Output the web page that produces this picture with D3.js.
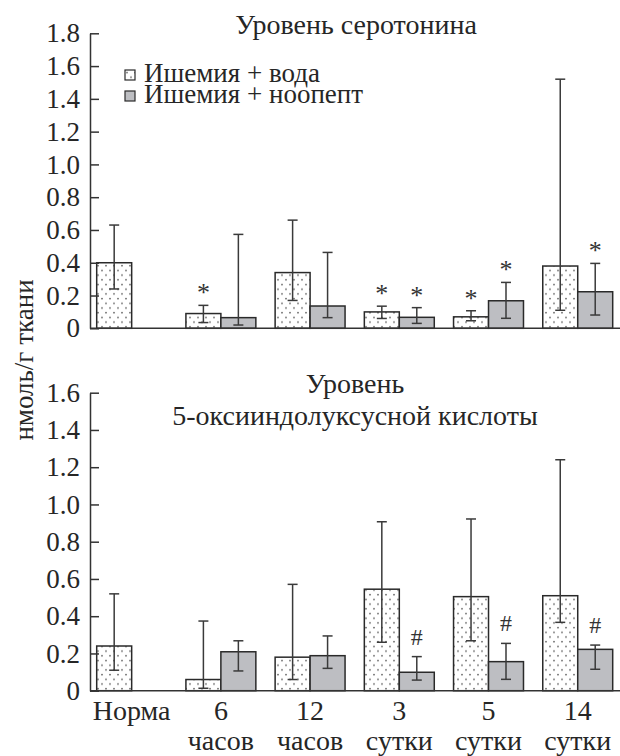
<!DOCTYPE html>
<html>
<head>
<meta charset="utf-8">
<script src="https://cdn.jsdelivr.net/npm/d3@7"></script>
</head>
<body style="margin:0">
<div class="chart"></div>
<script>
const categories = ['Норма', '6', '12', '3', '5', '14'];
const categoryUnits = ['', 'часов', 'часов', 'сутки', 'сутки', 'сутки'];
const seriesNames = ['Ишемия + вода', 'Ишемия + ноопепт'];

// serotonin, nmol/g
const serWater = [0.40, 0.09, 0.34, 0.10, 0.07, 0.38];
const serWaterLo = [0.24, 0.035, 0.17, 0.06, 0.046, 0.11];
const serWaterHi = [0.63, 0.14, 0.66, 0.135, 0.107, 1.52];
const serWaterMark = ['', '*', '', '*', '*', ''];
const serNoop = [null, 0.065, 0.136, 0.067, 0.168, 0.223];
const serNoopLo = [null, 0.02, 0.065, 0.03, 0.061, 0.081];
const serNoopHi = [null, 0.573, 0.463, 0.126, 0.28, 0.396];
const serNoopMark = ['', '', '', '*', '*', '*'];
const serTicks = [0, 0.2, 0.4, 0.6, 0.8, 1.0, 1.2, 1.4, 1.6, 1.8];

// 5-HIAA, nmol/g
const hiaaWater = [0.24, 0.06, 0.18, 0.545, 0.505, 0.51];
const hiaaWaterLo = [0.11, 0.013, 0.06, 0.26, 0.268, 0.367];
const hiaaWaterHi = [0.52, 0.374, 0.571, 0.907, 0.922, 1.24];
const hiaaWaterMark = ['', '', '', '', '', ''];
const hiaaNoop = [null, 0.209, 0.188, 0.099, 0.156, 0.222];
const hiaaNoopLo = [null, 0.106, 0.12, 0.057, 0.061, 0.115];
const hiaaNoopHi = [null, 0.268, 0.294, 0.183, 0.254, 0.245];
const hiaaNoopMark = ['', '', '', '#', '#', '#'];
const hiaaTicks = [0, 0.2, 0.4, 0.6, 0.8, 1.0, 1.2, 1.4, 1.6];

const W = 620, H = 756;
const axisX = 90;
const FONT = 'Liberation Serif';
const INK = '#262626';

function build_svg() {
   const svg = d3.select('.chart').append('svg')
      .attr('width', W)
      .attr('height', H)
      .attr('font-family', FONT)
      .style('display', 'block');
   const pat = svg.append('defs').append('pattern')
      .attr('id', 'dots')
      .attr('patternUnits', 'userSpaceOnUse')
      .attr('width', 8)
      .attr('height', 9.4);
   pat.append('rect').attr('width', 8).attr('height', 9.4).attr('fill', '#fff');
   pat.append('circle').attr('cx', 2).attr('cy', 2.5).attr('r', 0.8).attr('fill', '#555');
   pat.append('circle').attr('cx', 6).attr('cy', 7.2).attr('r', 0.8).attr('fill', '#555');
   return svg;
}

function rows(water, wLo, wHi, wMark, noop, nLo, nHi, nMark) {
   return categories.map((c, i) => [
      {cat: c, key: 0, v: water[i], lo: wLo[i], hi: wHi[i], mark: wMark[i]},
      {cat: c, key: 1, v: noop[i], lo: nLo[i], hi: nHi[i], mark: nMark[i]}
   ]).flat().filter(d => d.v != null);
}

function draw_panel(svg, data, yScale, ticks, xScale, subScale) {
   const g = svg.append('g');
   const y0 = yScale(0);

   g.selectAll('.bar')
      .data(data)
      .enter()
      .append('rect')
      .attr('class', 'bar')
      .attr('x', d => xScale(d.cat) + subScale(d.key))
      .attr('y', d => yScale(d.v))
      .attr('width', subScale.bandwidth())
      .attr('height', d => y0 - yScale(d.v))
      .attr('fill', d => d.key === 0 ? 'url(#dots)' : '#bdbec2')
      .attr('stroke', '#2a2a2a')
      .attr('stroke-width', 1.5);

   const cx = d => xScale(d.cat) + subScale(d.key) + subScale.bandwidth() / 2;
   const err = g.selectAll('.err').data(data).enter().append('g')
      .attr('stroke', '#3a3a3a').attr('stroke-width', 1.5);
   err.append('line').attr('x1', cx).attr('x2', cx)
      .attr('y1', d => yScale(d.lo)).attr('y2', d => yScale(d.hi));
   err.append('line').attr('x1', d => cx(d) - 5).attr('x2', d => cx(d) + 5)
      .attr('y1', d => yScale(d.hi)).attr('y2', d => yScale(d.hi));
   err.append('line').attr('x1', d => cx(d) - 5).attr('x2', d => cx(d) + 5)
      .attr('y1', d => yScale(d.lo)).attr('y2', d => yScale(d.lo));

   g.selectAll('.mark')
      .data(data.filter(d => d.mark))
      .enter()
      .append('text')
      .attr('x', cx)
      .attr('y', d => yScale(d.hi) - (d.mark === '*' ? 4 : 12))
      .attr('text-anchor', 'middle')
      .attr('font-family', FONT)
      .attr('font-size', d => d.mark === '*' ? 26 : 24)
      .attr('fill', '#333')
      .text(d => d.mark);

   const yAxis = d3.axisLeft(yScale)
      .tickValues(ticks)
      .tickFormat(d => d === 0 ? '0' : d.toFixed(1))
      .tickSizeInner(-9)
      .tickSizeOuter(0)
      .tickPadding(10);
   const ax = g.append('g')
      .attr('transform', `translate(${axisX},0)`)
      .call(yAxis)
      .attr('font-family', FONT)
      .attr('font-size', 27);
   ax.selectAll('path, line').attr('stroke', '#333').attr('stroke-width', 1.5);
   ax.selectAll('text').attr('fill', INK);

   g.append('line')
      .attr('x1', axisX).attr('x2', W)
      .attr('y1', y0).attr('y2', y0)
      .attr('stroke', '#333').attr('stroke-width', 1.5);
   return g;
}

function build_chart() {
   const svg = build_svg();

   const xScale = d3.scaleBand()
      .domain(categories)
      .range([96.7, 612.7])
      .paddingInner(0.216)
      .paddingOuter(0);
   const subScale = d3.scaleBand()
      .domain([0, 1])
      .range([0, xScale.bandwidth()]);

   const yTop = d3.scaleLinear().domain([0, 1.8]).range([328.3, 33.3]);
   const yBot = d3.scaleLinear().domain([0, 1.6]).range([690.7, 392.7]);

   draw_panel(svg, rows(serWater, serWaterLo, serWaterHi, serWaterMark,
      serNoop, serNoopLo, serNoopHi, serNoopMark), yTop, serTicks, xScale, subScale);
   draw_panel(svg, rows(hiaaWater, hiaaWaterLo, hiaaWaterHi, hiaaWaterMark,
      hiaaNoop, hiaaNoopLo, hiaaNoopHi, hiaaNoopMark), yBot, hiaaTicks, xScale, subScale);

   const txt = (x, y, s, size) => svg.append('text')
      .attr('x', x).attr('y', y)
      .attr('text-anchor', 'middle')
      .attr('font-family', FONT)
      .attr('font-size', size)
      .attr('fill', INK)
      .text(s);

   txt(356, 34, 'Уровень серотонина', 28);
   txt(355, 393, 'Уровень', 28);
   txt(355, 425, '5-оксииндолуксусной кислоты', 28);

   // legend
   const legend = svg.append('g').attr('transform', 'translate(125,70)');
   seriesNames.forEach((name, i) => {
      legend.append('rect')
         .attr('x', 0).attr('y', i * 21)
         .attr('width', 10).attr('height', 10)
         .attr('fill', i === 0 ? 'url(#dots)' : '#bdbec2')
         .attr('stroke', '#2a2a2a').attr('stroke-width', 1.2);
      legend.append('text')
         .attr('x', 19).attr('y', i * 21 + 12)
         .attr('font-family', FONT)
         .attr('font-size', 27)
         .attr('fill', INK)
         .text(name);
   });

   // x labels
   categories.forEach((c, i) => {
      const x = xScale(c) + xScale.bandwidth() / 2;
      txt(x, 720, c, 28);
      if (categoryUnits[i]) txt(x, 750, categoryUnits[i], 28);
   });

   svg.append('text')
      .attr('transform', 'translate(33,360) rotate(-90)')
      .attr('text-anchor', 'middle')
      .attr('font-family', FONT)
      .attr('font-size', 27)
      .attr('fill', INK)
      .text('нмоль/г ткани');
}

build_chart();
</script>
</body>
</html>
